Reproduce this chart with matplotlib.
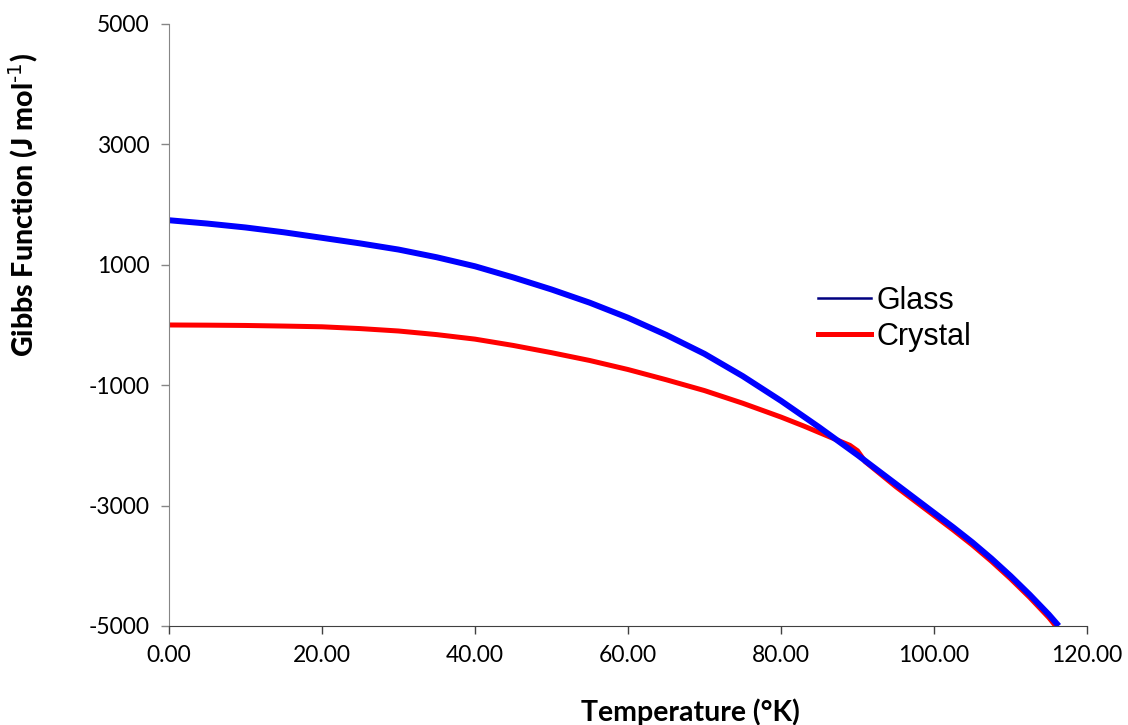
import numpy as np
import matplotlib
matplotlib.use('Agg')
import matplotlib.pyplot as plt
from matplotlib.lines import Line2D

plt.rcParams['font.family'] = ['Lato', 'DejaVu Sans']
plt.rcParams['mathtext.default'] = 'regular'
plt.rcParams['axes.unicode_minus'] = False

# Gibbs function of the glass and crystal phases vs temperature
t_glass = [0, 5, 10, 15, 20, 25, 30, 35, 40, 45, 50, 55, 60, 65, 70, 75,
           80, 85, 90, 95, 100, 102.5, 105, 107.5, 110, 112.5, 115, 116.3]
g_glass = [1740, 1685, 1620, 1540, 1448, 1355, 1253, 1125, 975, 790, 590,
           370, 120, -165, -480, -850, -1260, -1700, -2160, -2640, -3120,
           -3360, -3610, -3880, -4170, -4480, -4810, -5000]

t_crystal = [0, 5, 10, 15, 20, 25, 30, 35, 40, 45, 50, 55, 60, 65, 70, 75,
             80, 83, 86, 89, 90, 91, 95, 100, 102.5, 105, 107.5, 110,
             112.5, 115, 115.9]
g_crystal = [0, -3, -8, -18, -30, -60, -100, -160, -235, -340, -460, -590,
             -740, -910, -1090, -1300, -1530, -1680, -1840, -2000, -2090,
             -2270, -2685, -3165, -3405, -3655, -3925, -4215, -4525, -4860,
             -5000]

x_ticks = [0, 20, 40, 60, 80, 100, 120]
y_ticks = [-5000, -3000, -1000, 1000, 3000, 5000]

fig = plt.figure(figsize=(11.28, 7.25), dpi=100)
ax = fig.add_axes([0.1498, 0.1366, 0.8139, 0.8303])

ax.plot(t_crystal, g_crystal, color='#FF0000', lw=3.6,
        solid_joinstyle='round', solid_capstyle='butt')
ax.plot(t_glass, g_glass, color='#0000FF', lw=4.3,
        solid_joinstyle='round', solid_capstyle='butt')

ax.set_xlim(0, 120)
ax.set_ylim(-5000, 5000)
ax.set_xticks(x_ticks)
ax.set_xticklabels(['%.2f' % v for v in x_ticks])
ax.set_yticks(y_ticks)
ax.tick_params(axis='both', labelsize=16.5, direction='out', length=6,
               width=1, pad=8)
ax.tick_params(axis='y', colors='#868686', labelcolor='black')
ax.tick_params(axis='x', colors='#404040', labelcolor='black')

for s in ['top', 'right']:
    ax.spines[s].set_visible(False)
ax.spines['left'].set_color('#868686')
ax.spines['bottom'].set_color('#404040')

ax.set_xlabel('Temperature (°K)', fontsize=20.5, fontweight='bold')
ax.set_ylabel(r'Gibbs Function (J mol$^{\text{-1}}$)', fontsize=20.5,
              fontweight='black')
ax.xaxis.set_label_coords(0.5675, -0.1196)
ax.yaxis.set_label_coords(-0.1405, 0.70)

handles = [Line2D([], [], color='#000080', lw=1.8),
           Line2D([], [], color='#FF0000', lw=3.6)]
ax.legend(handles, ['Glass', 'Crystal'], frameon=False,
          prop={'family': ['Liberation Sans'], 'size': 22},
          loc='upper left', bbox_to_anchor=(0.7252, 0.6055),
          bbox_transform=fig.transFigure, borderpad=0, borderaxespad=0,
          handlelength=1.75, handletextpad=0.16, labelspacing=0.2)

fig.savefig('out.png', dpi=100)
